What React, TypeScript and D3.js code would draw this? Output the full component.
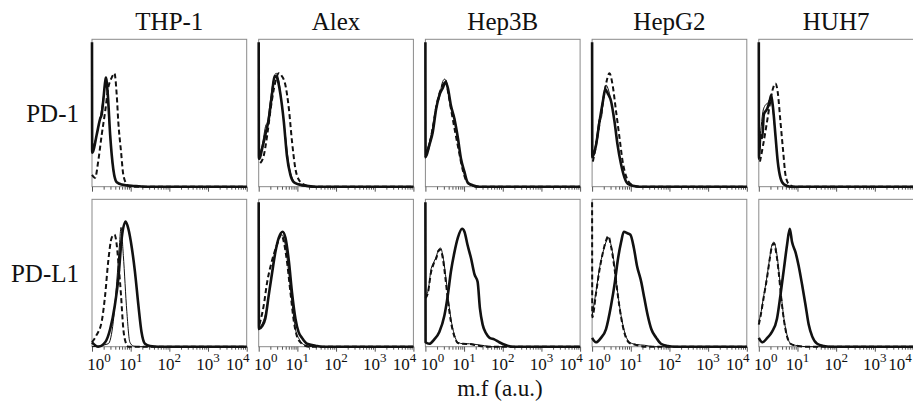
import React, { useEffect, useRef } from "react";
import * as d3 from "d3";

const cellLines = ["THP-1", "Alex", "Hep3B", "HepG2", "HUH7"];
const markers = ["PD-1", "PD-L1"];
const decades = [0, 1, 2, 3, 4];
const axisTitle = "m.f (a.u.)";

// each point: [log10 intensity, relative count]
// Ab = thick solid, Iso = thin solid, Neg = dashed
const thp1Pd1Ab = [[0, 0.98], [0.005, 0.23], [0.03, 0.24], [0.12, 0.35], [0.21, 0.46], [0.25, 0.49], [0.29, 0.58], [0.34, 0.71], [0.36, 0.74], [0.41, 0.62], [0.47, 0.35], [0.55, 0.12], [0.64, 0.03], [0.77, 0.015], [1.1, 0.005], [1.4, 0], [4, 0]];
const thp1Pd1Iso = [[0, 0.25], [0.1, 0.33], [0.2, 0.45], [0.3, 0.62], [0.35, 0.72], [0.4, 0.64], [0.46, 0.38], [0.54, 0.13], [0.63, 0.03], [0.8, 0.01], [1.1, 0], [4, 0]];
const thp1Pd1Neg = [[0, 0.08], [0.08, 0.06], [0.16, 0.17], [0.25, 0.35], [0.34, 0.51], [0.42, 0.67], [0.51, 0.74], [0.58, 0.77], [0.64, 0.62], [0.68, 0.44], [0.75, 0.24], [0.81, 0.08], [0.9, 0.016], [0.98, 0], [4, 0]];

const alexPd1Ab = [[0, 0.98], [0.005, 0.19], [0.02, 0.19], [0.09, 0.26], [0.17, 0.35], [0.26, 0.46], [0.34, 0.62], [0.41, 0.75], [0.47, 0.74], [0.56, 0.63], [0.65, 0.44], [0.73, 0.21], [0.82, 0.08], [0.91, 0.03], [1.03, 0.016], [1.29, 0.004], [1.5, 0], [4, 0]];
const alexPd1Iso = [[0, 0.2], [0.09, 0.28], [0.19, 0.42], [0.22, 0.43], [0.3, 0.58], [0.38, 0.72], [0.45, 0.77], [0.52, 0.72], [0.6, 0.55], [0.69, 0.35], [0.78, 0.15], [0.88, 0.05], [1.0, 0.015], [1.3, 0], [4, 0]];
const alexPd1Neg = [[0.04, 0.16], [0.13, 0.21], [0.22, 0.35], [0.3, 0.51], [0.39, 0.66], [0.52, 0.77], [0.6, 0.75], [0.69, 0.69], [0.78, 0.53], [0.86, 0.31], [0.95, 0.12], [1.03, 0.05], [1.16, 0.016], [1.38, 0], [4, 0]];

const hep3bPd1Ab = [[0, 0.98], [0.005, 0.2], [0.1, 0.28], [0.19, 0.37], [0.28, 0.53], [0.36, 0.62], [0.45, 0.67], [0.52, 0.71], [0.58, 0.67], [0.66, 0.55], [0.75, 0.46], [0.84, 0.33], [0.92, 0.19], [1.01, 0.1], [1.09, 0.03], [1.22, 0.01], [1.4, 0], [4, 0]];
const hep3bPd1Iso = [[0, 0.22], [0.1, 0.3], [0.2, 0.42], [0.28, 0.55], [0.36, 0.6], [0.43, 0.7], [0.5, 0.73], [0.58, 0.66], [0.66, 0.54], [0.75, 0.47], [0.84, 0.32], [0.93, 0.17], [1.02, 0.07], [1.12, 0.02], [1.3, 0], [4, 0]];
const hep3bPd1Neg = [[0, 0.2], [0.1, 0.28], [0.19, 0.4], [0.28, 0.54], [0.36, 0.63], [0.45, 0.69], [0.52, 0.72], [0.6, 0.62], [0.68, 0.5], [0.77, 0.37], [0.86, 0.25], [0.95, 0.13], [1.04, 0.05], [1.14, 0.015], [1.35, 0], [4, 0]];

const hepg2Pd1Ab = [[0, 0.98], [0.005, 0.2], [0.1, 0.28], [0.19, 0.44], [0.28, 0.58], [0.34, 0.66], [0.41, 0.63], [0.49, 0.58], [0.58, 0.44], [0.66, 0.28], [0.75, 0.15], [0.84, 0.06], [0.92, 0.02], [1.05, 0.007], [1.22, 0], [4, 0]];
const hepg2Pd1Iso = [[0, 0.2], [0.1, 0.3], [0.19, 0.46], [0.24, 0.47], [0.3, 0.62], [0.36, 0.69], [0.43, 0.65], [0.5, 0.57], [0.58, 0.45], [0.66, 0.29], [0.75, 0.15], [0.85, 0.05], [0.95, 0.015], [1.15, 0], [4, 0]];
const hepg2Pd1Neg = [[0.02, 0.17], [0.1, 0.28], [0.23, 0.49], [0.34, 0.67], [0.45, 0.77], [0.53, 0.69], [0.62, 0.51], [0.71, 0.33], [0.79, 0.17], [0.88, 0.07], [1.01, 0.016], [1.22, 0], [4, 0]];

const huh7Pd1Ab = [[0, 0.98], [0.005, 0.19], [0.04, 0.35], [0.09, 0.33], [0.13, 0.49], [0.22, 0.53], [0.28, 0.58], [0.32, 0.62], [0.37, 0.53], [0.43, 0.35], [0.49, 0.17], [0.56, 0.06], [0.65, 0.016], [0.82, 0], [4, 0]];
const huh7Pd1Iso = [[0, 0.3], [0.05, 0.38], [0.1, 0.5], [0.16, 0.55], [0.24, 0.57], [0.3, 0.6], [0.35, 0.55], [0.41, 0.4], [0.48, 0.2], [0.55, 0.07], [0.65, 0.015], [0.8, 0], [4, 0]];
const huh7Pd1Neg = [[0.03, 0.17], [0.11, 0.28], [0.2, 0.42], [0.28, 0.55], [0.37, 0.67], [0.43, 0.7], [0.49, 0.64], [0.56, 0.44], [0.63, 0.24], [0.69, 0.08], [0.78, 0.016], [0.91, 0], [4, 0]];

const thp1Pdl1Ab = [[0, 0.03], [0.16, 0], [0.34, 0.03], [0.47, 0.12], [0.59, 0.28], [0.68, 0.46], [0.77, 0.74], [0.87, 0.85], [0.94, 0.8], [1.03, 0.67], [1.11, 0.51], [1.2, 0.28], [1.28, 0.1], [1.37, 0.02], [1.5, 0.005], [1.72, 0], [4, 0]];
const thp1Pdl1Iso = [[0, 0], [0.42, 0.02], [0.55, 0.17], [0.64, 0.44], [0.71, 0.69], [0.75, 0.81], [0.81, 0.62], [0.9, 0.24], [0.98, 0.03], [1.07, 0.005], [1.2, 0], [4, 0]];
const thp1Pdl1Neg = [[0, 0.03], [0.12, 0.08], [0.25, 0.17], [0.34, 0.35], [0.42, 0.58], [0.51, 0.74], [0.58, 0.76], [0.64, 0.69], [0.68, 0.58], [0.75, 0.35], [0.81, 0.12], [0.87, 0.03], [0.94, 0], [4, 0]];

const alexPdl1Ab = [[0, 0.98], [0.005, 0.12], [0.09, 0.14], [0.17, 0.19], [0.26, 0.35], [0.34, 0.49], [0.43, 0.64], [0.52, 0.74], [0.62, 0.78], [0.69, 0.74], [0.78, 0.58], [0.86, 0.37], [0.95, 0.19], [1.03, 0.1], [1.12, 0.06], [1.25, 0.02], [1.47, 0.007], [1.64, 0], [4, 0]];
const alexPdl1Iso = [[0, 0.13], [0.1, 0.16], [0.2, 0.25], [0.3, 0.42], [0.4, 0.6], [0.5, 0.72], [0.6, 0.76], [0.68, 0.7], [0.77, 0.52], [0.86, 0.3], [0.95, 0.12], [1.05, 0.05], [1.2, 0.01], [1.4, 0], [4, 0]];
const alexPdl1Neg = [[0.02, 0.15], [0.13, 0.28], [0.22, 0.44], [0.34, 0.58], [0.47, 0.69], [0.59, 0.76], [0.65, 0.71], [0.73, 0.58], [0.82, 0.37], [0.91, 0.17], [0.99, 0.07], [1.12, 0.02], [1.29, 0], [4, 0]];

const hep3bPdl1Ab = [[0, 0.98], [0.005, 0.03], [0.1, 0.02], [0.23, 0.05], [0.36, 0.1], [0.49, 0.21], [0.58, 0.35], [0.66, 0.51], [0.75, 0.64], [0.84, 0.74], [0.95, 0.8], [1.01, 0.78], [1.09, 0.69], [1.18, 0.6], [1.27, 0.49], [1.35, 0.44], [1.41, 0.26], [1.48, 0.15], [1.57, 0.09], [1.66, 0.06], [1.78, 0.05], [1.91, 0.03], [2.09, 0.01], [2.26, 0], [4, 0]];
const hep3bPdl1Iso = [[0, 0.35], [0.06, 0.37], [0.15, 0.53], [0.21, 0.57], [0.28, 0.61], [0.34, 0.66], [0.39, 0.67], [0.45, 0.62], [0.52, 0.49], [0.58, 0.35], [0.66, 0.19], [0.75, 0.08], [0.84, 0.03], [0.97, 0.02], [1.14, 0.02], [1.31, 0.015], [1.53, 0.007], [1.74, 0], [4, 0]];
const hep3bPdl1Neg = [[0, 0.33], [0.06, 0.36], [0.15, 0.51], [0.21, 0.56], [0.28, 0.6], [0.34, 0.65], [0.39, 0.66], [0.45, 0.6], [0.52, 0.46], [0.58, 0.32], [0.66, 0.17], [0.75, 0.07], [0.84, 0.025], [0.97, 0.02], [1.14, 0.018], [1.31, 0.01], [1.6, 0], [4, 0]];

const hepg2Pdl1Ab = [[0, 0.06], [0.1, 0.03], [0.23, 0.06], [0.36, 0.12], [0.49, 0.28], [0.59, 0.44], [0.66, 0.58], [0.75, 0.71], [0.82, 0.78], [0.91, 0.77], [0.99, 0.76], [1.08, 0.67], [1.16, 0.55], [1.27, 0.44], [1.35, 0.33], [1.44, 0.21], [1.53, 0.12], [1.66, 0.06], [1.78, 0.02], [1.96, 0.005], [2.13, 0], [4, 0]];
const hepg2Pdl1Iso = [[0, 0.21], [0.1, 0.37], [0.19, 0.53], [0.28, 0.64], [0.36, 0.71], [0.42, 0.74], [0.49, 0.69], [0.58, 0.55], [0.66, 0.37], [0.75, 0.21], [0.84, 0.1], [0.97, 0.03], [1.14, 0.015], [1.35, 0.01], [1.61, 0], [4, 0]];
const hepg2Pdl1Neg = [[0, 0.98], [0.005, 0.2], [0.1, 0.36], [0.19, 0.52], [0.28, 0.64], [0.36, 0.72], [0.42, 0.75], [0.49, 0.68], [0.58, 0.53], [0.66, 0.36], [0.75, 0.2], [0.84, 0.09], [0.97, 0.025], [1.14, 0.012], [1.4, 0], [4, 0]];

const huh7Pdl1Ab = [[0, 0.06], [0.09, 0.03], [0.22, 0.06], [0.34, 0.1], [0.47, 0.19], [0.56, 0.35], [0.65, 0.53], [0.73, 0.69], [0.8, 0.8], [0.86, 0.71], [0.95, 0.64], [1.03, 0.55], [1.12, 0.42], [1.21, 0.28], [1.29, 0.15], [1.38, 0.07], [1.51, 0.02], [1.68, 0.005], [1.85, 0], [4, 0]];
const huh7Pdl1Iso = [[0, 0.17], [0.04, 0.21], [0.13, 0.35], [0.22, 0.49], [0.28, 0.6], [0.34, 0.69], [0.39, 0.71], [0.46, 0.64], [0.52, 0.51], [0.58, 0.35], [0.65, 0.19], [0.73, 0.08], [0.82, 0.02], [0.99, 0.007], [1.25, 0], [4, 0]];
const huh7Pdl1Neg = [[0, 0.15], [0.04, 0.2], [0.13, 0.34], [0.22, 0.48], [0.28, 0.59], [0.34, 0.68], [0.39, 0.7], [0.46, 0.62], [0.52, 0.49], [0.58, 0.33], [0.65, 0.18], [0.73, 0.07], [0.82, 0.02], [0.99, 0.006], [1.25, 0], [4, 0]];

const panelRows = [
    [
        [thp1Pd1Iso, thp1Pd1Neg, thp1Pd1Ab],
        [alexPd1Iso, alexPd1Neg, alexPd1Ab],
        [hep3bPd1Iso, hep3bPd1Neg, hep3bPd1Ab],
        [hepg2Pd1Iso, hepg2Pd1Neg, hepg2Pd1Ab],
        [huh7Pd1Iso, huh7Pd1Neg, huh7Pd1Ab],
    ],
    [
        [thp1Pdl1Iso, thp1Pdl1Neg, thp1Pdl1Ab],
        [alexPdl1Iso, alexPdl1Neg, alexPdl1Ab],
        [hep3bPdl1Iso, hep3bPdl1Neg, hep3bPdl1Ab],
        [hepg2Pdl1Iso, hepg2Pdl1Neg, hepg2Pdl1Ab],
        [huh7Pdl1Iso, huh7Pdl1Neg, huh7Pdl1Ab],
    ],
];

// iso, neg, ab
const lineStyles = [
    { width: 1, dash: null },
    { width: 2, dash: "5,3" },
    { width: 2.6, dash: null },
];

const FONT = "'Liberation Serif', 'Times New Roman', serif";
const WIDTH = 913;
const HEIGHT = 404;

const App = () => {
    const svgRef = useRef(null);

    useEffect(() => {
        const svg = d3.select(svgRef.current);
        svg.selectAll("*").remove();

        const colBand = d3.scaleBand().domain(cellLines).range([92, 913.5]).paddingInner(0.072);
        const rowBand = d3.scaleBand().domain(markers).range([39.3, 346.7]).paddingInner(0.079);
        const pw = colBand.bandwidth();
        const ph = rowBand.bandwidth();

        const xScale = d3.scaleLog().domain([1, 1e4]).range([0, pw]);
        const yScale = d3.scaleLinear().domain([0, 1]).range([ph, 0]);

        const histLine = d3.line()
            .x(d => xScale(Math.pow(10, d[0])))
            .y(d => yScale(d[1]))
            .curve(d3.curveMonotoneX);

        // column titles
        svg.selectAll(".col-title")
            .data(cellLines)
            .join("text")
            .attr("class", "col-title")
            .attr("x", d => colBand(d) + pw / 2)
            .attr("y", 30)
            .attr("text-anchor", "middle")
            .attr("font-family", FONT)
            .attr("font-size", 25)
            .attr("fill", "#111")
            .text(d => d);

        // row titles
        svg.selectAll(".row-title")
            .data(markers)
            .join("text")
            .attr("class", "row-title")
            .attr("x", 79)
            .attr("y", d => rowBand(d) + ph / 2 + 9)
            .attr("text-anchor", "end")
            .attr("font-family", FONT)
            .attr("font-size", 25)
            .attr("fill", "#111")
            .text(d => d);

        markers.forEach((marker, ri) => {
            cellLines.forEach((cell, ci) => {
                const x0 = colBand(cell);
                const g = svg.append("g")
                    .attr("transform", `translate(${x0},${rowBand(marker)})`);

                g.append("rect")
                    .attr("width", pw)
                    .attr("height", ph)
                    .attr("fill", "none")
                    .attr("stroke", "#8a8a8a")
                    .attr("stroke-width", 1);

                // log ticks under the panel
                const axis = d3.axisBottom(xScale)
                    .tickSize(3)
                    .tickFormat(() => "");
                const ax = g.append("g")
                    .attr("transform", `translate(0,${ph})`)
                    .call(axis);
                ax.select(".domain").remove();
                ax.selectAll(".tick line")
                    .attr("stroke", "#555")
                    .attr("y2", d => (Math.abs(Math.log10(d) - Math.round(Math.log10(d))) < 1e-9 ? 5 : 3));

                g.selectAll(".hist")
                    .data(panelRows[ri][ci])
                    .join("path")
                    .attr("class", "hist")
                    .attr("d", histLine)
                    .attr("fill", "none")
                    .attr("stroke", "#111")
                    .attr("stroke-linejoin", "round")
                    .attr("stroke-width", (d, i) => lineStyles[i].width)
                    .attr("stroke-dasharray", (d, i) => lineStyles[i].dash);

                if (ri === markers.length - 1) {
                    const labelX = (d, i) => {
                        let px = xScale(Math.pow(10, d));
                        if (i === 0) px += 7;
                        if (i === decades.length - 1) px = Math.min(px - 9, WIDTH - x0 - 13);
                        return px;
                    };
                    const labels = g.selectAll(".dec")
                        .data(decades)
                        .join("text")
                        .attr("class", "dec")
                        .attr("x", labelX)
                        .attr("y", ph + 23)
                        .attr("text-anchor", "middle")
                        .attr("font-family", FONT)
                        .attr("fill", "#111");
                    labels.append("tspan").attr("font-size", 17).text("10");
                    labels.append("tspan").attr("font-size", 13).attr("dy", -8).text(d => d);
                }
            });
        });

        svg.append("text")
            .attr("x", 500)
            .attr("y", 396)
            .attr("text-anchor", "middle")
            .attr("font-family", FONT)
            .attr("font-size", 23)
            .attr("fill", "#111")
            .text(axisTitle);
    }, []);

    return (
        <svg
            ref={svgRef}
            width={WIDTH}
            height={HEIGHT}
            style={{ position: "absolute", left: 0, top: 0, background: "#fff" }}
        />
    );
};

export default App;
